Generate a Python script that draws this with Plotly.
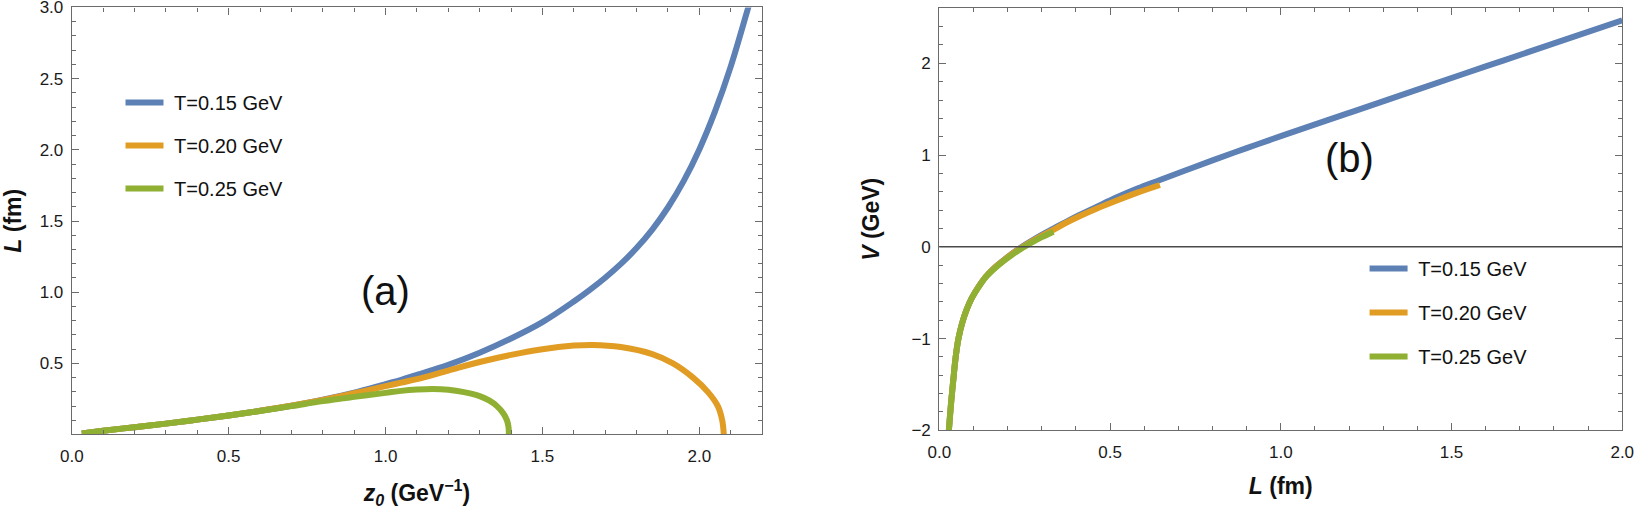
import plotly.graph_objects as go

# ---------------- panel (a): L (fm) against z0 (GeV^-1) ----------------
z_a_015 = [0.032, 0.1, 0.2, 0.3, 0.4, 0.5, 0.6, 0.7, 0.8, 0.9, 1.0, 1.05, 1.1, 1.2, 1.3,
           1.4, 1.5, 1.6, 1.65, 1.7, 1.75, 1.8, 1.85, 1.9, 1.95, 2.0, 2.05, 2.1, 2.15, 2.16]
L_a_015 = [0.008, 0.027, 0.052, 0.077, 0.105, 0.134, 0.167, 0.203, 0.245, 0.295, 0.355, 0.385,
           0.42, 0.49, 0.575, 0.675, 0.79, 0.935, 1.015, 1.102, 1.199, 1.31, 1.44, 1.595, 1.78,
           2.003, 2.27, 2.585, 2.955, 3.03]

z_a_020 = [0.032, 0.1, 0.2, 0.3, 0.4, 0.5, 0.6, 0.7, 0.8, 0.9, 1.0, 1.05, 1.1, 1.2, 1.3, 1.4,
           1.5, 1.6, 1.66, 1.75, 1.85, 1.916, 1.98, 2.027, 2.059, 2.073, 2.078]
L_a_020 = [0.008, 0.027, 0.052, 0.077, 0.105, 0.134, 0.167, 0.203, 0.243, 0.29, 0.34, 0.365,
           0.39, 0.45, 0.51, 0.56, 0.6, 0.625, 0.63, 0.615, 0.565, 0.5, 0.4, 0.3, 0.2, 0.1, 0.0]

z_a_025 = [0.032, 0.1, 0.2, 0.3, 0.4, 0.5, 0.6, 0.7, 0.8, 0.9, 1.0, 1.05, 1.1, 1.15, 1.2,
           1.25, 1.3, 1.33, 1.355, 1.375, 1.387, 1.392, 1.393]
L_a_025 = [0.008, 0.027, 0.052, 0.077, 0.105, 0.134, 0.166, 0.2, 0.235, 0.265, 0.293, 0.307,
           0.316, 0.32, 0.315, 0.298, 0.27, 0.24, 0.2, 0.15, 0.1, 0.05, 0.0]

# ---------------- panel (b): V (GeV) against L (fm) ----------------
L_b_015 = [0.028, 0.035, 0.041, 0.048, 0.056, 0.067, 0.08, 0.095, 0.114, 0.135, 0.158, 0.185,
           0.212, 0.24, 0.27, 0.3, 0.334, 0.37, 0.412, 0.46, 0.52, 0.58, 0.646, 0.72, 0.8,
           0.9, 1.0, 1.2, 1.4, 1.6, 1.8, 2.0]
V_b_015 = [-2.0, -1.68, -1.45, -1.2, -1.0, -0.83, -0.685, -0.56, -0.44, -0.33, -0.24, -0.155,
           -0.078, -0.005, 0.065, 0.13, 0.198, 0.27, 0.35, 0.435, 0.54, 0.635, 0.728, 0.832,
           0.942, 1.076, 1.206, 1.46, 1.714, 1.966, 2.217, 2.468]

L_b_020 = [0.028, 0.035, 0.041, 0.048, 0.056, 0.067, 0.08, 0.095, 0.114, 0.135, 0.158, 0.185,
           0.212, 0.24, 0.27, 0.3, 0.334, 0.37, 0.412, 0.46, 0.52, 0.58, 0.646]
V_b_020 = [-2.0, -1.68, -1.45, -1.2, -1.0, -0.83, -0.685, -0.56, -0.44, -0.33, -0.24, -0.158,
           -0.08, -0.01, 0.058, 0.12, 0.185, 0.26, 0.335, 0.415, 0.505, 0.59, 0.674]

L_b_025 = [0.028, 0.035, 0.041, 0.048, 0.056, 0.067, 0.08, 0.095, 0.114, 0.135, 0.158, 0.185,
           0.212, 0.24, 0.27, 0.3, 0.334]
V_b_025 = [-2.0, -1.68, -1.45, -1.2, -1.0, -0.83, -0.685, -0.56, -0.445, -0.335, -0.25, -0.165,
           -0.09, -0.02, 0.045, 0.105, 0.165]

labels = ["T=0.15 GeV", "T=0.20 GeV", "T=0.25 GeV"]
colors = ["#5E81B5", "#E19C24", "#8FB032"]   # Mathematica default palette

FONT = "Liberation Sans, Arial, sans-serif"
FRAME = "#6b6b6b"

fig = go.Figure()

panel_a = [(z_a_015, L_a_015), (z_a_020, L_a_020), (z_a_025, L_a_025)]
panel_b = [(L_b_015, V_b_015), (L_b_020, V_b_020), (L_b_025, V_b_025)]

# nbsp in front of the name widens the gap between swatch and text
for i, (xs, ys) in enumerate(panel_a):
    fig.add_trace(go.Scatter(
        x=xs, y=ys, mode="lines", name="\u00a0" + labels[i],
        line=dict(color=colors[i], width=6, shape="spline", smoothing=1.0),
        xaxis="x", yaxis="y", legend="legend", legendgroup=f"a{i}",
    ))

for i, (xs, ys) in enumerate(panel_b):
    fig.add_trace(go.Scatter(
        x=xs, y=ys, mode="lines", name="\u00a0" + labels[i],
        line=dict(color=colors[i], width=6, shape="spline", smoothing=1.0),
        xaxis="x2", yaxis="y2", legend="legend2", legendgroup=f"b{i}",
    ))


def frame_axis(**kw):
    # Mathematica-style frame: ticks inside, mirrored on the opposite side
    base = dict(
        showline=True, linecolor=FRAME, linewidth=1.2, mirror="allticks",
        ticks="inside", ticklen=7, tickwidth=1, tickcolor=FRAME,
        showgrid=False, zeroline=False, automargin=False,
        ticklabeloverflow="allow",
        tickfont=dict(family=FONT, size=17, color="#1a1a1a"),
        title_font=dict(family=FONT, size=23, color="#111"),
        layer="above traces",
    )
    base.update(kw)
    return base


legend_style = dict(
    font=dict(family=FONT, size=20, color="#111"),
    bgcolor="rgba(0,0,0,0)", borderwidth=0,
    itemwidth=38,
    xanchor="left", yanchor="top",
)

fig.update_layout(
    width=1635, height=509,
    template="none",
    paper_bgcolor="white", plot_bgcolor="white",
    margin=dict(l=0, r=0, t=0, b=0),
    font=dict(family=FONT),
    xaxis=frame_axis(
        domain=[0.0439, 0.4661], range=[0, 2.2], tick0=0, dtick=0.5, tickformat=".1f",
        minor=dict(dtick=0.1, ticks="inside", ticklen=4, tickcolor=FRAME),
        title=dict(text="<b><i>z</i><sub><i>0</i></sub> (GeV<sup>−1</sup>)</b>", standoff=21),
        ticklabelstandoff=6, anchor="y",
    ),
    yaxis=frame_axis(
        domain=[0.1473, 0.9853], range=[0.004, 3.0], tick0=0, dtick=0.5, tickformat=".1f",
        minor=dict(dtick=0.1, ticks="inside", ticklen=4, tickcolor=FRAME),
        title=dict(text="<b><i>L</i> (fm)</b>", standoff=13),
        ticklabelstandoff=4, anchor="x",
    ),
    xaxis2=frame_axis(
        domain=[0.5745, 0.9922], range=[0, 2.0], tick0=0, dtick=0.5, tickformat=".1f",
        minor=dict(dtick=0.1, ticks="inside", ticklen=4, tickcolor=FRAME),
        title=dict(text="<b><i>L</i> (fm)</b>", standoff=17),
        ticklabelstandoff=6, anchor="y2",
    ),
    yaxis2=frame_axis(
        domain=[0.1546, 0.9837], range=[-2.0, 2.6], tick0=0, dtick=1,
        minor=dict(dtick=0.2, ticks="inside", ticklen=4, tickcolor=FRAME),
        title=dict(text="<b><i>V</i> (GeV)</b>", standoff=25),
        ticklabelstandoff=4, anchor="x2",
    ),
    legend=dict(x=0.0737, y=0.8368, tracegroupgap=14, **legend_style),
    legend2=dict(x=0.8346, y=0.511, tracegroupgap=15, **legend_style),
    shapes=[
        # horizontal axis at V = 0 in panel (b), drawn over the curves
        dict(type="line", xref="x2 domain", yref="y2", x0=0, x1=1, y0=0, y1=0,
             line=dict(color="#4a4a4a", width=1.5), layer="above"),
    ],
    annotations=[
        dict(text="(a)", x=1.0, y=1.01, xref="x", yref="y", showarrow=False,
             font=dict(family=FONT, size=40, color="#111")),
        dict(text="(b)", x=1.2, y=0.97, xref="x2", yref="y2", showarrow=False,
             font=dict(family=FONT, size=40, color="#111")),
    ],
)

# the page's default 8px body margin would push the fixed-size figure off the window
fig.write_html(
    "out.html",
    config={"displayModeBar": False},
    post_script="document.body.style.margin = '0px';",
)
